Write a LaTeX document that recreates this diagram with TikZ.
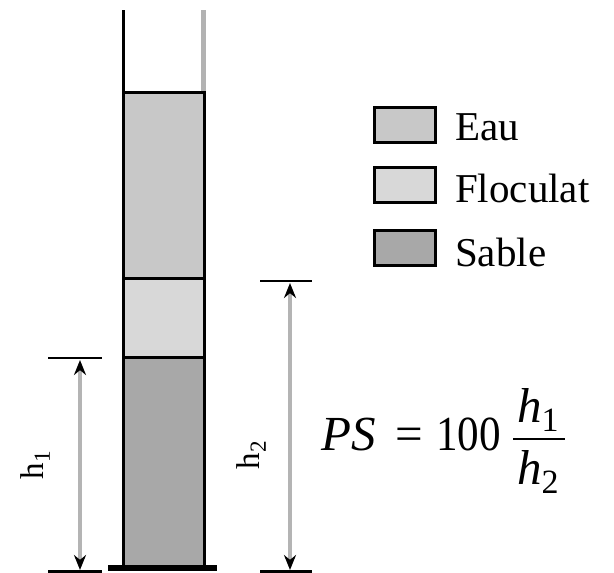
\documentclass[tikz,border=0pt]{standalone}
\usepackage{fontspec}
\setmainfont{Liberation Serif}
\usetikzlibrary{arrows.meta}
\definecolor{eau}{RGB}{200,200,200}
\definecolor{floc}{RGB}{216,216,216}
\definecolor{sable}{RGB}{168,168,168}
\definecolor{wallgray}{RGB}{178,178,178}
\definecolor{dimgray}{RGB}{180,180,180}
\tikzset{
  layer/.style={draw=black, line width=3pt, inner sep=0pt, outer sep=0pt, minimum width=81pt},
  legbox/.style={draw=black, line width=3pt, inner sep=0pt, minimum width=61pt, minimum height=35pt},
  legtext/.style={anchor=base west, inner sep=0pt, font=\fontsize{41}{44}\selectfont},
  tick/.style={line width=2.5pt, black},
  dimarrow/.style={dimgray, line width=4.5pt, {Stealth[black,length=15pt,width=12pt]}-{Stealth[black,length=15pt,width=12pt]}},
  hlabel/.style={rotate=90, inner sep=0pt, font=\fontsize{33}{35}\selectfont},
  formtext/.style={anchor=base west, inner sep=0pt, font=\fontsize{49}{52}\selectfont}
}
\begin{document}
\begin{tikzpicture}[x=1pt,y=-1pt]
\useasboundingbox (0,0) rectangle (614,573);
% tube walls above water
\draw[black, line width=3pt] (123.5,10) -- (123.5,92);
\draw[wallgray, line width=5pt] (203,10) -- (203,92);
% layers
\node[layer, fill=eau, minimum height=186pt] (water) at (163.5,185) {};
\node[layer, fill=floc, minimum height=79pt] (flocul) at (163.5,317.5) {};
\node[layer, fill=sable, minimum height=210pt] (sand) at (163.5,462) {};
% base
\draw[black, line width=6pt] (108,568) -- (217,568);
% h1 dimension
\coordinate (h1tl) at (48,358);
\coordinate (h1tr) at (102,358);
\coordinate (h1bl) at (48,571.5);
\coordinate (h1br) at (102,571.5);
\draw[tick] (h1tl) -- (h1tr);
\draw[tick] (h1bl) -- (h1br);
\coordinate (h1top) at (80,360);
\coordinate (h1bot) at (80,570);
\draw[dimarrow] (h1top) -- (h1bot);
\node[hlabel] (h1lab) at (35,465) {h\textsubscript{1}};
% h2 dimension
\coordinate (h2tl) at (260,281);
\coordinate (h2tr) at (312,281);
\coordinate (h2bl) at (260,571.5);
\coordinate (h2br) at (312,571.5);
\draw[tick] (h2tl) -- (h2tr);
\draw[tick] (h2bl) -- (h2br);
\coordinate (h2top) at (290,283);
\coordinate (h2bot) at (290,570);
\draw[dimarrow] (h2top) -- (h2bot);
\node[hlabel] (h2lab) at (251,455) {h\textsubscript{2}};
% legend
\node[legbox, fill=eau] (legE) at (405,125) {};
\node[legbox, fill=floc] (legF) at (405,185) {};
\node[legbox, fill=sable] (legS) at (405,248) {};
\node[legtext] (txtE) at (455,140) {Eau};
\node[legtext] (txtF) at (455,202) {Floculat};
\node[legtext] (txtS) at (455,266) {Sable};
% formula
\node[formtext] (ps) at (321,450) {\textit{PS}};
\node[formtext] (eq) at (395,450) {=};
\node[formtext] (hundred) at (436,450) {\scalebox{0.88}[1]{100}};
\node[formtext] (num) at (517,422) {\textit{h}\raisebox{-9pt}{\fontsize{34}{36}\selectfont 1}};
\node[formtext] (den) at (517,484) {\textit{h}\raisebox{-9pt}{\fontsize{34}{36}\selectfont 2}};
\coordinate (barL) at (513,439);
\coordinate (barR) at (565,439);
\draw[black, line width=2.5pt] (barL) -- (barR);
\end{tikzpicture}
\end{document}
